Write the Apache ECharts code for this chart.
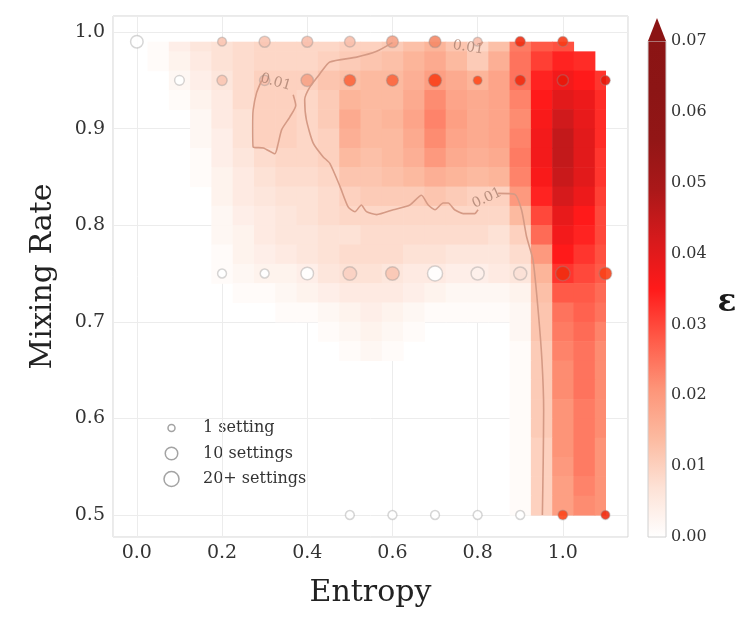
<!DOCTYPE html>
<html>
<head>
<meta charset="utf-8">
<title>Mixing Rate vs Entropy</title>
<script src="https://cdn.jsdelivr.net/npm/echarts@6/dist/echarts.min.js"></script>
<style>
    html, body { margin: 0; padding: 0; background: #fff; }
    #chart { width: 755px; height: 629px; }
</style>
</head>
<body>
<div id="chart"></div>
<script>
(function () {
    'use strict';

    var FONT = 'DejaVu Serif';

    var xCols = [0, 0.05, 0.1, 0.15, 0.2, 0.25, 0.3, 0.35, 0.4, 0.45, 0.5, 0.55,
        0.6, 0.65, 0.7, 0.75, 0.8, 0.85, 0.9, 0.95, 1.0, 1.05, 1.1];
    var yRows = [0.99, 0.97, 0.95, 0.93, 0.91, 0.89, 0.87, 0.85, 0.83, 0.81, 0.79, 0.77,
        0.75, 0.73, 0.71, 0.69, 0.67, 0.65, 0.63, 0.61, 0.59, 0.57, 0.55, 0.53, 0.51];
    var epsGrid = [
        [0, .001, .004, .006, .007, .008, .009, .009, .009, .009, .010, .010, .011, .013, .015, .012, .009, .013, .024, .028, .029, 0, 0],
        [0, .001, .003, .005, .007, .008, .009, .009, .009, .010, .011, .012, .013, .015, .017, .014, .011, .016, .025, .031, .034, .033, 0],
        [0, 0, .002, .004, .006, .008, .010, .010, .010, .012, .013, .014, .014, .016, .019, .017, .015, .018, .025, .034, .037, .035, .032],
        [0, 0, .001, .003, .005, .008, .010, .010, .009, .011, .015, .014, .014, .017, .022, .018, .017, .018, .023, .035, .040, .038, .033],
        [0, 0, 0, .002, .005, .007, .010, .010, .009, .011, .017, .014, .015, .018, .023, .019, .017, .018, .022, .036, .043, .039, .033],
        [0, 0, 0, .002, .004, .007, .010, .010, .009, .010, .016, .014, .014, .017, .022, .018, .017, .018, .023, .037, .045, .040, .033],
        [0, 0, 0, .001, .004, .006, .008, .009, .009, .010, .014, .013, .014, .016, .020, .017, .016, .017, .024, .037, .045, .040, .032],
        [0, 0, 0, .001, .003, .005, .007, .008, .008, .009, .012, .012, .013, .014, .016, .015, .014, .015, .023, .036, .044, .040, .032],
        [0, 0, 0, 0, .003, .005, .006, .007, .007, .008, .010, .011, .011, .011, .012, .011, .010, .010, .020, .034, .042, .038, .031],
        [0, 0, 0, 0, .002, .004, .005, .006, .007, .008, .009, .009, .009, .009, .009, .009, .009, .009, .014, .030, .039, .035, .030],
        [0, 0, 0, 0, .002, .003, .005, .006, .006, .007, .007, .008, .008, .008, .008, .008, .008, .007, .010, .026, .037, .034, .030],
        [0, 0, 0, 0, .001, .003, .004, .005, .006, .007, .008, .008, .008, .007, .007, .006, .006, .006, .008, .020, .035, .032, .029],
        [0, 0, 0, 0, .001, .002, .003, .003, .004, .006, .007, .007, .006, .005, .005, .004, .004, .005, .006, .015, .032, .030, .028],
        [0, 0, 0, 0, 0, .001, .001, .002, .003, .004, .005, .005, .005, .004, .003, .002, .002, .002, .003, .013, .028, .028, .026],
        [0, 0, 0, 0, 0, 0, 0, .001, .001, .002, .003, .004, .003, .002, .001, .001, .001, .001, .002, .012, .025, .027, .025],
        [0, 0, 0, 0, 0, 0, 0, 0, 0, .001, .002, .003, .002, .001, 0, 0, 0, 0, .002, .012, .024, .026, .023],
        [0, 0, 0, 0, 0, 0, 0, 0, 0, 0, .001, .002, .001, 0, 0, 0, 0, 0, .001, .011, .023, .025, .022],
        [0, 0, 0, 0, 0, 0, 0, 0, 0, 0, 0, 0, 0, 0, 0, 0, 0, 0, .001, .011, .022, .025, .022],
        [0, 0, 0, 0, 0, 0, 0, 0, 0, 0, 0, 0, 0, 0, 0, 0, 0, 0, .001, .011, .022, .025, .022],
        [0, 0, 0, 0, 0, 0, 0, 0, 0, 0, 0, 0, 0, 0, 0, 0, 0, 0, .001, .011, .021, .024, .022],
        [0, 0, 0, 0, 0, 0, 0, 0, 0, 0, 0, 0, 0, 0, 0, 0, 0, 0, .001, .011, .021, .024, .022],
        [0, 0, 0, 0, 0, 0, 0, 0, 0, 0, 0, 0, 0, 0, 0, 0, 0, 0, .001, .010, .021, .024, .021],
        [0, 0, 0, 0, 0, 0, 0, 0, 0, 0, 0, 0, 0, 0, 0, 0, 0, 0, .001, .010, .020, .024, .021],
        [0, 0, 0, 0, 0, 0, 0, 0, 0, 0, 0, 0, 0, 0, 0, 0, 0, 0, .001, .010, .019, .023, .021],
        [0, 0, 0, 0, 0, 0, 0, 0, 0, 0, 0, 0, 0, 0, 0, 0, 0, 0, .001, .010, .019, .022, .021]
    ];
    var fieldBottom = 0.5;

    // measured settings: position, eps, number of settings
    var pointX = [0.0, 0.2, 0.3, 0.4, 0.5, 0.6, 0.7, 0.8, 0.9, 1.0,
        0.1, 0.2, 0.3, 0.4, 0.5, 0.6, 0.7, 0.8, 0.9, 1.0, 1.1,
        0.2, 0.3, 0.4, 0.5, 0.6, 0.7, 0.8, 0.9, 1.0, 1.1,
        0.5, 0.6, 0.7, 0.8, 0.9, 1.0, 1.1];
    var pointY = [0.99, 0.99, 0.99, 0.99, 0.99, 0.99, 0.99, 0.99, 0.99, 0.99,
        0.95, 0.95, 0.95, 0.95, 0.95, 0.95, 0.95, 0.95, 0.95, 0.95, 0.95,
        0.75, 0.75, 0.75, 0.75, 0.75, 0.75, 0.75, 0.75, 0.75, 0.75,
        0.5, 0.5, 0.5, 0.5, 0.5, 0.5, 0.5];
    var pointEps = [0, .011, .011, .012, .012, .017, .021, .012, .036, .033,
        0, .011, .012, .017, .026, .026, .032, .030, .036, .040, .040,
        0, 0, 0, .009, .011, 0, .003, .006, .036, .032,
        0, 0, 0, 0, 0, .031, .036];
    var pointCount = [10, 2, 6, 6, 5, 8, 8, 2, 4, 4,
        3, 4, 4, 10, 8, 8, 12, 2, 5, 6, 3,
        2, 2, 10, 14, 14, 20, 12, 12, 17, 10,
        2, 2, 2, 2, 2, 3, 2];

    // eps = 0.01 contour
    var contourLevel = 0.01;
    var contourMain = [[0.600, 0.989], [0.563, 0.980], [0.516, 0.974], [0.453, 0.969], [0.430, 0.957],
        [0.406, 0.943], [0.394, 0.930], [0.398, 0.909], [0.414, 0.885], [0.437, 0.871], [0.453, 0.864],
        [0.477, 0.840], [0.496, 0.819], [0.512, 0.814], [0.527, 0.821], [0.539, 0.814], [0.563, 0.811],
        [0.602, 0.816], [0.641, 0.821], [0.668, 0.831], [0.684, 0.821], [0.700, 0.816], [0.719, 0.823],
        [0.731, 0.823], [0.746, 0.816], [0.766, 0.812], [0.793, 0.812], [0.801, 0.816]];
    var contourRight = [[0.848, 0.833], [0.887, 0.832], [0.903, 0.816], [0.915, 0.788], [0.930, 0.764],
        [0.942, 0.712], [0.951, 0.660], [0.955, 0.609], [0.954, 0.557], [0.952, 0.500]];
    var contourIsland = [[0.293, 0.950], [0.281, 0.937], [0.273, 0.919], [0.272, 0.902], [0.273, 0.881],
        [0.297, 0.880], [0.324, 0.874], [0.332, 0.885], [0.340, 0.899], [0.359, 0.912], [0.373, 0.924],
        [0.367, 0.935]];
    var contourTop = [[0.806, 0.986], [0.812, 0.990]];
    var contourLabelPos = [[0.326, 0.948], [0.778, 0.984], [0.822, 0.828]];
    var contourLabelAngle = [-16, -9, 25];

    // colour scale of the surface (0 .. 0.07, evenly spaced)
    var epsMax = 0.07;
    var epsColors = ['#ffffff', '#fde2d6', '#fcbaa0', '#fd9478', '#ff5a48', '#ff1a1a',
        '#d61a1c', '#aa1819', '#921616', '#8c1515', '#8b1414'];
    var pointColors = ['#ffffff', '#f9cbbb', '#f4916f', '#ff4a1c', '#e8180a'];
    var pointEpsMax = 0.04;

    var legendCounts = [1, 10, 20];
    var legendNames = ['1 setting', '10 settings', '20+ settings'];

    function sizeFor(n) {
        return 7 + 8 * Math.sqrt((Math.min(n, 20) - 1) / 19);
    }

    var halfW = (xCols[1] - xCols[0]) / 2;
    var halfH = (yRows[0] - yRows[1]) / 2;

    var heatData = [];
    yRows.forEach(function (y, i) {
        xCols.forEach(function (x, j) {
            heatData.push([x, y, epsGrid[i][j]]);
        });
    });

    function renderCell(params, api) {
        var v = api.value(2);
        if (!(v > 0)) {
            return;
        }
        var x = api.value(0);
        var y = api.value(1);
        var x0 = Math.max(x - halfW, xCols[0]);
        var x1 = Math.min(x + halfW, xCols[xCols.length - 1]);
        var y0 = Math.max(y - halfH, fieldBottom);
        var y1 = Math.min(y + halfH, yRows[0]);
        var a = api.coord([x0, y1]);
        var b = api.coord([x1, y0]);
        return {
            type: 'rect',
            shape: { x: a[0], y: a[1], width: b[0] - a[0] + 0.6, height: b[1] - a[1] + 0.6 },
            style: { fill: api.visual('color') }
        };
    }

    var barGradient = new echarts.graphic.LinearGradient(0, 1, 0, 0,
        epsColors.map(function (c, i) {
            return { offset: i / (epsColors.length - 1), color: c };
        }));

    function renderColorbar(params, api) {
        var top = api.coord([0, epsMax]);
        var bot = api.coord([1, 0]);
        var w = bot[0] - top[0];
        return {
            type: 'group',
            children: [{
                type: 'rect',
                shape: { x: top[0], y: top[1], width: w, height: bot[1] - top[1] },
                style: { fill: barGradient, stroke: '#d0d0d0', lineWidth: 1 }
            }, {
                type: 'polygon',
                shape: { points: [[top[0], top[1]], [bot[0], top[1]], [top[0] + w / 2, top[1] - 23]] },
                style: { fill: epsColors[epsColors.length - 1] }
            }]
        };
    }

    function tenthLabel(v) {
        return Math.abs(v * 10 - Math.round(v * 10)) < 1e-6 ? v.toFixed(1) : '';
    }

    function contourLine(data) {
        return {
            type: 'line',
            data: data,
            symbol: 'none',
            smooth: 0.2,
            silent: true,
            lineStyle: { color: '#d59a85', width: 1.6 }
        };
    }

    var graphics = [];
    legendCounts.forEach(function (n, i) {
        var cy = 428 + i * 25.5;
        graphics.push({
            type: 'circle',
            shape: { cx: 171.5, cy: cy, r: sizeFor(n) / 2 },
            style: { fill: 'none', stroke: '#a3a3a3', lineWidth: 1.5 }
        });
        graphics.push({
            type: 'text',
            x: 203,
            y: cy,
            style: {
                text: legendNames[i],
                fontFamily: FONT,
                fontSize: 16,
                fill: '#333',
                verticalAlign: 'middle'
            }
        });
    });
    // colour bar title
    graphics.push({
        type: 'text',
        x: 727,
        y: 303,
        style: {
            text: 'ε',
            fontFamily: FONT,
            fontSize: 31,
            fontWeight: 'bold',
            fill: '#1a1a1a',
            align: 'center',
            verticalAlign: 'middle'
        }
    });

    var chart = echarts.init(document.getElementById('chart'));
    chart.setOption({
        animation: false,
        backgroundColor: '#fff',
        grid: [
            { left: 113, top: 16, width: 515, height: 521, show: true, borderColor: '#d4d4d4', borderWidth: 1 },
            { left: 648, top: 41, width: 18, height: 496 }
        ],
        xAxis: [{
            type: 'value',
            gridIndex: 0,
            min: -0.056,
            max: 1.153,
            name: 'Entropy',
            nameLocation: 'middle',
            nameGap: 41,
            nameTextStyle: { fontFamily: FONT, fontSize: 30, color: '#222' },
            axisLine: { show: false },
            axisTick: { show: false },
            axisLabel: { fontFamily: FONT, fontSize: 19, color: '#333', margin: 7, formatter: tenthLabel },
            splitLine: { show: true, lineStyle: { color: '#ececec', width: 1 } }
        }, {
            type: 'value',
            gridIndex: 1,
            min: 0,
            max: 1,
            show: false
        }],
        yAxis: [{
            type: 'value',
            gridIndex: 0,
            min: 0.4772,
            max: 1.0166,
            name: 'Mixing Rate',
            nameLocation: 'middle',
            nameGap: 55,
            nameTextStyle: { fontFamily: FONT, fontSize: 30, color: '#222' },
            axisLine: { show: false },
            axisTick: { show: false },
            axisLabel: { fontFamily: FONT, fontSize: 19, color: '#333', margin: 8, formatter: tenthLabel },
            splitLine: { show: true, lineStyle: { color: '#ececec', width: 1 } }
        }, {
            type: 'value',
            gridIndex: 1,
            min: 0,
            max: epsMax,
            interval: 0.01,
            position: 'right',
            axisLine: { show: false },
            axisTick: { show: false },
            splitLine: { show: false },
            axisLabel: {
                fontFamily: FONT, fontSize: 16, color: '#333', margin: 5,
                formatter: function (v) { return v.toFixed(2); }
            }
        }],
        visualMap: [{
            type: 'continuous',
            show: false,
            seriesIndex: 0,
            dimension: 2,
            min: 0,
            max: epsMax,
            inRange: { color: epsColors }
        }, {
            type: 'continuous',
            show: false,
            seriesIndex: 6,
            dimension: 2,
            min: 0,
            max: pointEpsMax,
            inRange: { color: pointColors }
        }],
        graphic: graphics,
        series: [{
            type: 'custom',
            name: 'eps surface',
            xAxisIndex: 0,
            yAxisIndex: 0,
            renderItem: renderCell,
            silent: true,
            data: heatData
        },
        contourLine(contourMain),
        contourLine(contourRight),
        contourLine(contourIsland),
        contourLine(contourTop),
        {
            type: 'scatter',
            name: 'contour labels',
            silent: true,
            symbolSize: 1,
            itemStyle: { color: 'rgba(0,0,0,0)' },
            label: {
                show: true,
                position: 'inside',
                formatter: function () { return contourLevel.toFixed(2); },
                fontFamily: FONT,
                fontSize: 14,
                color: '#a9806f'
            },
            data: contourLabelPos.map(function (p, i) {
                return { value: p, label: { rotate: contourLabelAngle[i] } };
            })
        }, {
            type: 'scatter',
            name: 'settings',
            silent: true,
            symbolSize: function (v) { return sizeFor(v[3]); },
            itemStyle: { opacity: 0.9, borderColor: 'rgba(140,140,140,0.4)', borderWidth: 1.5 },
            data: pointX.map(function (x, i) {
                return [x, pointY[i], pointEps[i], pointCount[i]];
            })
        }, {
            type: 'custom',
            name: 'colorbar',
            xAxisIndex: 1,
            yAxisIndex: 1,
            clip: false,
            silent: true,
            renderItem: renderColorbar,
            data: [[0, 0]]
        }]
    });
})();
</script>
</body>
</html>
